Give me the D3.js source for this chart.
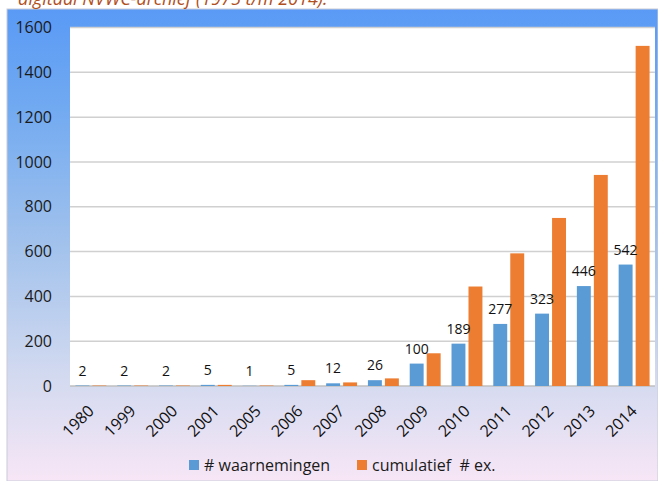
<!DOCTYPE html>
<meta charset="utf-8">
<style>
  body { margin: 0; background: #fff; }
  text { font-family: "Open Sans", sans-serif; }
</style>
<svg width="658" height="481"></svg>
<script src="https://d3js.org/d3.v7.min.js"></script>
<script>

// data
var years = ["1980", "1999", "2000", "2001", "2005", "2006", "2007", "2008", "2009", "2010", "2011", "2012", "2013", "2014"];
var waarnemingen = [2, 2, 2, 5, 1, 5, 12, 26, 100, 189, 277, 323, 446, 542];
var cumulatief = [2, 2, 2, 5, 2, 26, 16, 34, 146, 444, 592, 750, 942, 1518];
var yTicks = [0, 200, 400, 600, 800, 1000, 1200, 1400, 1600];
var seriesNames = ["# waarnemingen", "cumulatief  # ex."];
var colors = ["#5b9bd5", "#ed7d31"];

var svg = d3.select("svg"),
    width = +svg.attr("width"),
    height = +svg.attr("height");

var plot = {left: 70, right: 655, top: 27.5, bottom: 386};

// background gradient of the chart frame
var defs = svg.append("defs");
var grad = defs.append("linearGradient")
    .attr("id", "bg")
    .attr("x1", 0).attr("y1", 0).attr("x2", 0).attr("y2", 1);
grad.append("stop").attr("offset", "0%").attr("stop-color", "#5a9af6");
grad.append("stop").attr("offset", "20%").attr("stop-color", "#70a9f1");
grad.append("stop").attr("offset", "50%").attr("stop-color", "#a2c2ec");
grad.append("stop").attr("offset", "78%").attr("stop-color", "#d3daf0");
grad.append("stop").attr("offset", "100%").attr("stop-color", "#f7e6f6");

svg.append("rect")
    .attr("x", 7).attr("y", 9)
    .attr("width", width - 7).attr("height", height - 9)
    .attr("fill", "url(#bg)")
    .attr("stroke", "#c9ccd8")
    .attr("stroke-width", 1);

// caption above the chart, cut off by the top edge as in the source
svg.append("text")
    .attr("x", 18).attr("y", 5)
    .attr("font-size", 18)
    .attr("font-style", "italic")
    .attr("fill", "#b0501e")
    .text("digitaal NVWC-archief (1975 t/m 2014).");

// plot area
svg.append("rect")
    .attr("x", plot.left).attr("y", plot.top)
    .attr("width", plot.right - plot.left).attr("height", plot.bottom - plot.top)
    .attr("fill", "#fff");

var x0 = d3.scaleBand().domain(years).range([plot.left, plot.right]).padding(0);
var x1 = d3.scaleBand().domain([0, 1]).range([0, x0.bandwidth()])
    .paddingInner(0.18).paddingOuter(0.32);
var y = d3.scaleLinear().domain([0, 1600]).range([plot.bottom, plot.top]);

// gridlines
svg.append("g")
    .selectAll("line")
    .data(yTicks)
    .enter()
    .append("line")
      .attr("x1", plot.left).attr("x2", plot.right)
      .attr("y1", function(d) { return y(d); })
      .attr("y2", function(d) { return y(d); })
      .attr("stroke", function(d) { return d === 0 ? "#bfbfbf" : "#d0d0d0"; })
      .attr("stroke-width", 1.5);

// y axis labels
var yAxis = d3.axisLeft(y).tickValues(yTicks).tickFormat(d3.format("d"))
    .tickSize(0).tickPadding(0);
var gy = svg.append("g")
    .attr("transform", "translate(52,0)")
    .call(yAxis);
gy.select(".domain").remove();
gy.selectAll("text")
    .attr("font-size", 16)
    .attr("font-family", "'Open Sans', sans-serif")
    .attr("fill", "#1a1a1a");

// bars
var rows = years.map(function(yr, i) {
  return {year: yr, values: [waarnemingen[i], cumulatief[i]]};
});

var groups = svg.append("g")
    .selectAll("g")
    .data(rows)
    .enter()
    .append("g")
      .attr("transform", function(d) { return "translate(" + x0(d.year) + ",0)"; });

groups.selectAll("rect")
    .data(function(d) { return d.values.map(function(v, k) { return {k: k, v: v}; }); })
    .enter()
    .append("rect")
      .attr("x", function(d) { return x1(d.k); })
      .attr("width", x1.bandwidth())
      .attr("y", function(d) { return y(d.v); })
      .attr("height", function(d) { return y(0) - y(d.v); })
      .attr("fill", function(d) { return colors[d.k]; });

// data labels on the blue series
groups.append("text")
    .attr("x", x1(0) + x1.bandwidth() / 2)
    .attr("y", function(d) { return y(d.values[0]) - 10; })
    .attr("text-anchor", "middle")
    .attr("font-size", 14)
    .attr("fill", "#111")
    .text(function(d) { return d.values[0]; });

// x axis labels, rotated
var xAxis = d3.axisBottom(x0).tickSize(0).tickPadding(0);
var gx = svg.append("g")
    .attr("transform", "translate(0," + plot.bottom + ")")
    .call(xAxis);
gx.select(".domain").remove();
gx.selectAll("text")
    .attr("font-size", 16)
    .attr("font-family", "'Open Sans', sans-serif")
    .attr("fill", "#111")
    .attr("text-anchor", "end")
    .attr("dy", "0.35em")
    .attr("transform", "translate(0,22) rotate(-45)");

// legend
var legend = svg.append("g");
var legendX = [189, 357];
seriesNames.forEach(function(name, i) {
  legend.append("rect")
      .attr("x", legendX[i]).attr("y", 460)
      .attr("width", 10).attr("height", 10)
      .attr("fill", colors[i]);
  legend.append("text")
      .attr("x", legendX[i] + 15).attr("y", 465)
      .attr("dy", "0.35em")
      .attr("font-size", 16)
      .attr("fill", "#1a1a1a")
      .style("white-space", "pre")
      .text(name);
});

</script>
